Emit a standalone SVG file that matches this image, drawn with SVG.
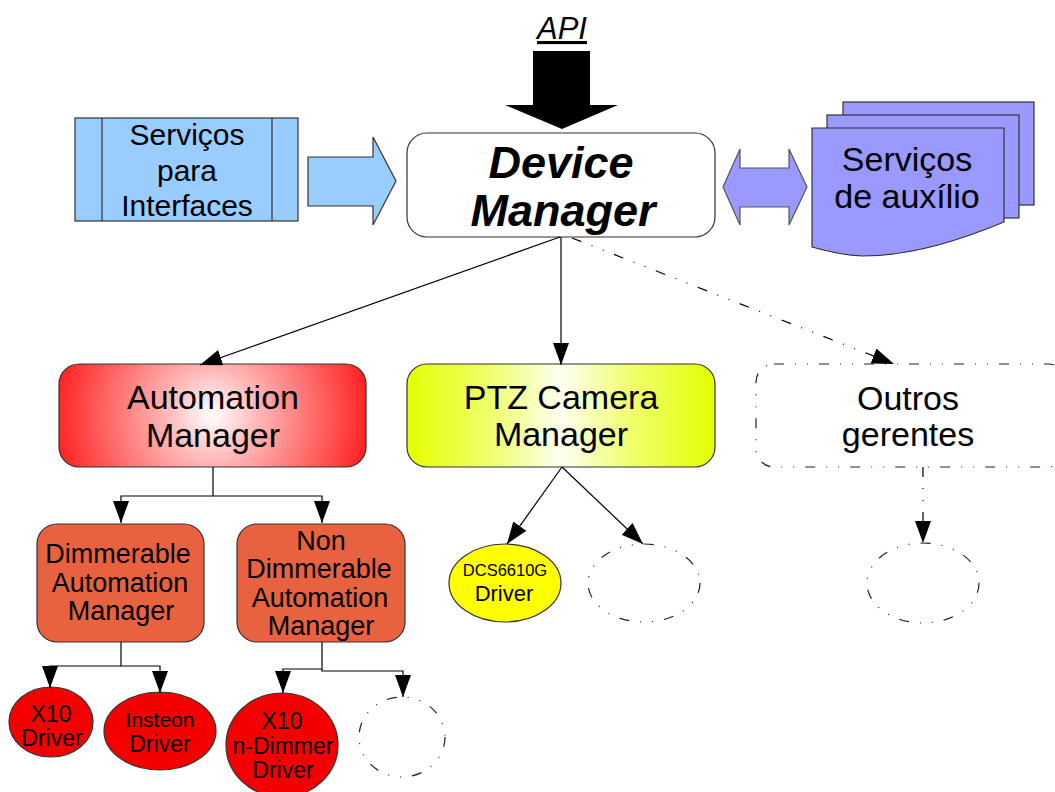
<svg xmlns="http://www.w3.org/2000/svg" width="1055" height="792" viewBox="0 0 1055 792">
  <defs>
    <style>
      text { font-family: "Liberation Sans", Arial, sans-serif; fill: #000; text-anchor: middle; }
      .t35 { font-size: 34px; }
      .t30 { font-size: 30px; }
      .t27 { font-size: 27px; }
      .t22 { font-size: 23px; }
      .box { stroke: #333; stroke-width: 1.2; }
      .line { fill: none; stroke: #000; stroke-width: 1.2; }
      .dd { fill: none; stroke: #000; stroke-width: 1.2; stroke-dasharray: 10 11 1 11 1 11; }
      .ddshape { fill: #fff; stroke: #222; stroke-width: 1.2; stroke-dasharray: 10 11 1 11 1 11; }
      .drv { fill: #f40000; stroke: #333; stroke-width: 1.2; }
    </style>
    <marker id="arr" markerUnits="userSpaceOnUse" markerWidth="22" markerHeight="18" refX="22" refY="8" orient="auto">
      <path d="M0,0 L22,8 L0,16 z" fill="#000"/>
    </marker>
    <radialGradient id="redGlow" gradientUnits="userSpaceOnUse" cx="212" cy="415" r="160">
      <stop offset="0" stop-color="#ffffff"/>
      <stop offset="0.3" stop-color="#ffb4b4"/>
      <stop offset="1" stop-color="#ff1e1e"/>
    </radialGradient>
    <linearGradient id="yellowAxial" x1="0" y1="0" x2="1" y2="0">
      <stop offset="0" stop-color="#e4ff00"/>
      <stop offset="0.28" stop-color="#f0ff70"/>
      <stop offset="0.5" stop-color="#fffff0"/>
      <stop offset="0.72" stop-color="#f0ff70"/>
      <stop offset="1" stop-color="#e4ff00"/>
    </linearGradient>
  </defs>

  <!-- API entry arrow -->
  <g id="api">
    <text x="562" y="39" font-size="31" font-style="italic" text-decoration="underline">API</text>
    <path d="M533,51 H590 V105 H618 L562,129 L505,105 H533 z" fill="#000"/>
  </g>

  <!-- interface services -->
  <g id="servicos-interfaces">
    <rect class="box" x="75" y="118" width="223" height="103" fill="#99ccff"/>
    <line x1="102" y1="118" x2="102" y2="221" stroke="#333" stroke-width="1.2"/>
    <line x1="272" y1="118" x2="272" y2="221" stroke="#333" stroke-width="1.2"/>
    <text class="t30" x="187" y="145">Serviços</text>
    <text class="t30" x="187" y="181">para</text>
    <text class="t30" x="187" y="216">Interfaces</text>
  </g>
  <g id="seta-interfaces">
    <path class="box" d="M308,157 H373 V137 L396,181 L373,225 V206 H308 z" fill="#99ccff" stroke="#555"/>
  </g>

  <!-- core -->
  <g id="device-manager">
    <rect class="box" x="407" y="133" width="308" height="104" rx="20" fill="#fff"/>
    <text x="561" y="178" font-size="45" font-weight="bold" font-style="italic">Device</text>
    <text x="563" y="226" font-size="45" font-weight="bold" font-style="italic">Manager</text>
  </g>

  <!-- two-way link to helper services -->
  <g id="seta-auxilio">
    <path d="M723,187 L740,149 V168 H789 V149 L807,187 L789,225 V207 H740 V225 z" fill="#9999ff" stroke="#555" stroke-width="1.2"/>
  </g>

  <!-- helper services (document stack) -->
  <g id="servicos-auxilio">
    <rect x="843" y="102" width="191" height="103" fill="#9999ff" stroke="#333" stroke-width="1.2"/>
    <rect x="827" y="115" width="192" height="103" fill="#9999ff" stroke="#333" stroke-width="1.2"/>
    <path d="M812,128 H1004 V222 C965,238 915,256 862,256 C842,255 826,251 812,247 z" fill="#9999ff" stroke="#333" stroke-width="1.2"/>
    <text class="t35" x="907" y="171">Serviços</text>
    <text class="t35" x="907" y="208">de auxílio</text>
  </g>

  <!-- managers -->
  <g id="automation-manager">
    <rect class="box" x="59" y="364" width="307" height="103" rx="20" fill="url(#redGlow)"/>
    <text class="t35" x="213" y="409">Automation</text>
    <text class="t35" x="213" y="447">Manager</text>
  </g>
  <g id="ptz-camera-manager">
    <rect class="box" x="407" y="364" width="308" height="103" rx="20" fill="url(#yellowAxial)"/>
    <text class="t35" x="561" y="409">PTZ Camera</text>
    <text class="t35" x="561" y="446">Manager</text>
  </g>
  <g id="outros-gerentes">
    <rect class="ddshape" x="756" y="364" width="310" height="103" rx="18"/>
    <text class="t35" x="908" y="410">Outros</text>
    <text class="t35" x="908" y="446">gerentes</text>
  </g>

  <!-- automation sub-managers -->
  <g id="dimmerable-manager">
    <rect class="box" x="37" y="524" width="167" height="118" rx="20" fill="#e8623f"/>
    <text class="t27" x="118" y="563">Dimmerable</text>
    <text class="t27" x="120" y="592">Automation</text>
    <text class="t27" x="121" y="620">Manager</text>
  </g>
  <g id="non-dimmerable-manager">
    <rect class="box" x="237" y="524" width="168" height="118" rx="20" fill="#e8623f"/>
    <text class="t27" x="321" y="550">Non</text>
    <text class="t27" x="319" y="578">Dimmerable</text>
    <text class="t27" x="320" y="607">Automation</text>
    <text class="t27" x="321" y="635">Manager</text>
  </g>

  <!-- drivers -->
  <g id="x10-driver">
    <ellipse class="drv" cx="51" cy="722" rx="42" ry="35"/>
    <text class="t22" x="51" y="722">X10</text>
    <text class="t22" x="52" y="746">Driver</text>
  </g>
  <g id="insteon-driver">
    <ellipse class="drv" cx="160" cy="731" rx="56" ry="39"/>
    <text x="160" y="727" font-size="21">Insteon</text>
    <text class="t22" x="160" y="752">Driver</text>
  </g>
  <g id="x10-ndimmer-driver">
    <ellipse class="drv" cx="282" cy="745" rx="56" ry="52"/>
    <text class="t22" x="282" y="729">X10</text>
    <text class="t22" x="283" y="754">n-Dimmer</text>
    <text class="t22" x="283" y="778">Driver</text>
  </g>
  <g id="driver-nondim-extra">
    <ellipse class="ddshape" cx="402" cy="737" rx="43" ry="40"/>
  </g>
  <g id="dcs6610g-driver">
    <ellipse cx="505" cy="583" rx="56" ry="39" fill="#ffff00" stroke="#333" stroke-width="1.2"/>
    <text x="505" y="576" font-size="16.5">DCS6610G</text>
    <text x="504" y="601" font-size="22">Driver</text>
  </g>
  <g id="driver-ptz-extra">
    <ellipse class="ddshape" cx="644" cy="583" rx="56" ry="39"/>
  </g>
  <g id="driver-outros">
    <ellipse class="ddshape" cx="923" cy="583" rx="56" ry="40"/>
  </g>

  <!-- connectors -->
  <g id="connectors">
    <line class="line" x1="560" y1="237" x2="200" y2="365" marker-end="url(#arr)"/>
    <line class="line" x1="561" y1="237" x2="561" y2="365" marker-end="url(#arr)"/>
    <line class="dd" x1="572" y1="238" x2="894" y2="364" marker-end="url(#arr)"/>

    <polyline class="line" points="213,467 213,496 121,496 121,523" marker-end="url(#arr)"/>
    <polyline class="line" points="213,496 322,496 322,523" marker-end="url(#arr)"/>

    <polyline class="line" points="121,642 121,666 50,666 50,688" marker-end="url(#arr)"/>
    <polyline class="line" points="121,666 160,666 160,693" marker-end="url(#arr)"/>
    <polyline class="line" points="322,642 322,669 283,669 283,693" marker-end="url(#arr)"/>
    <polyline class="line" points="322,669 322,671 403,671 403,697" marker-end="url(#arr)"/>

    <line class="line" x1="562" y1="467" x2="507" y2="544" marker-end="url(#arr)"/>
    <line class="line" x1="562" y1="467" x2="643" y2="544" marker-end="url(#arr)"/>
    <line class="dd" x1="923" y1="467" x2="923" y2="543" marker-end="url(#arr)"/>
  </g>
</svg>
